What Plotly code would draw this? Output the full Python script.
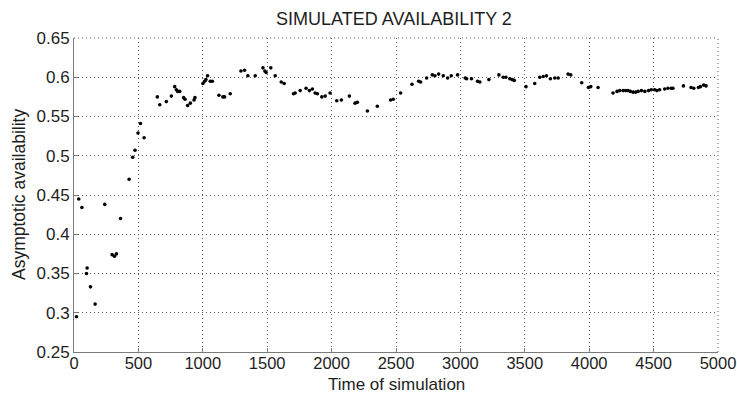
import plotly.graph_objects as go

# --- data ---
time_early = [19, 37, 61, 97, 102, 128, 164, 239, 296, 314,
              329, 361, 428, 456, 474, 497, 516, 544, 647, 666,
              717, 756, 782, 795, 805, 821, 851, 862, 882, 903,
              932, 939, 1001, 1014, 1024, 1037, 1058, 1074, 1125, 1156,
              1169, 1213, 1296, 1324, 1350, 1407, 1467, 1482, 1492, 1528,
              1562, 1609, 1632, 1704, 1717]
avail_early = [0.295, 0.445, 0.434, 0.350, 0.357, 0.333, 0.311, 0.438, 0.374, 0.372,
               0.375, 0.420, 0.470, 0.498, 0.507, 0.529, 0.541, 0.523, 0.575, 0.565,
               0.569, 0.576, 0.588, 0.584, 0.582, 0.582, 0.574, 0.572, 0.564, 0.567,
               0.571, 0.574, 0.592, 0.595, 0.597, 0.602, 0.595, 0.595, 0.577, 0.575,
               0.575, 0.579, 0.608, 0.609, 0.602, 0.602, 0.612, 0.608, 0.606, 0.612,
               0.602, 0.594, 0.592, 0.579, 0.580]

time_mid = [1756, 1802, 1828, 1851, 1872, 1890, 1924, 1950, 1988, 2040,
            2076, 2138, 2182, 2200, 2278, 2355, 2458, 2479, 2536, 2624,
            2676, 2691, 2738, 2782, 2802, 2831, 2867, 2901, 2929, 2978,
            3037, 3048, 3086, 3133, 3151, 3221, 3299, 3332, 3353, 3384,
            3402, 3418, 3509, 3577]
avail_mid = [0.583, 0.586, 0.583, 0.585, 0.580, 0.579, 0.575, 0.576, 0.580, 0.570,
             0.571, 0.576, 0.567, 0.568, 0.557, 0.563, 0.571, 0.572, 0.580, 0.591,
             0.595, 0.594, 0.599, 0.603, 0.602, 0.604, 0.602, 0.599, 0.602, 0.603,
             0.599, 0.598, 0.598, 0.595, 0.594, 0.597, 0.603, 0.600, 0.600, 0.598,
             0.597, 0.596, 0.588, 0.592]

time_late = [3616, 3643, 3668, 3699, 3733, 3759, 3836, 3857, 3942, 3994,
             4012, 4069, 4185, 4216, 4237, 4263, 4283, 4302, 4320, 4341,
             4361, 4380, 4406, 4432, 4461, 4482, 4508, 4526, 4547, 4586,
             4611, 4637, 4650, 4732, 4791, 4812, 4848, 4864, 4889, 4907]
avail_late = [0.600, 0.601, 0.602, 0.598, 0.599, 0.599, 0.604, 0.603, 0.593, 0.587,
              0.588, 0.587, 0.580, 0.582, 0.583, 0.583, 0.583, 0.583, 0.582, 0.581,
              0.581, 0.582, 0.583, 0.582, 0.583, 0.584, 0.584, 0.583, 0.584, 0.585,
              0.586, 0.586, 0.586, 0.589, 0.587, 0.586, 0.587, 0.588, 0.590, 0.589]

x_ticks = [0, 500, 1000, 1500, 2000, 2500, 3000, 3500, 4000, 4500, 5000]
x_tick_labels = ["0", "500", "1000", "1500", "2000", "2500", "3000", "3500", "4000", "4500", "5000"]
y_ticks = [0.25, 0.3, 0.35, 0.4, 0.45, 0.5, 0.55, 0.6, 0.65]
y_tick_labels = ["0.25", "0.3", "0.35", "0.4", "0.45", "0.5", "0.55", "0.6", "0.65"]

times = time_early + time_mid + time_late
avail = avail_early + avail_mid + avail_late

FONT = "Liberation Sans, Arial, sans-serif"
TXT = "#1e1e1e"
GRID = "#5a5a5a"

fig = go.Figure()
fig.add_trace(go.Scatter(
    x=times, y=avail, mode="markers",
    marker=dict(color="black", size=3.6, line=dict(width=0)),
    showlegend=False,
))

axis_common = dict(
    showgrid=True, gridcolor=GRID, griddash="1px,3px", gridwidth=1,
    zeroline=False, showline=True, linecolor="#7a7a7a", linewidth=1,
    ticks="inside", ticklen=4, tickcolor="#7a7a7a",
)

fig.update_layout(
    width=737, height=394,
    margin=dict(l=74, r=19, t=38, b=42),
    paper_bgcolor="white", plot_bgcolor="white",
    font=dict(family=FONT, color=TXT),
    title=dict(text="SIMULATED AVAILABILITY 2", x=0.5346, xanchor="center",
               y=0.953, yanchor="middle", yref="container",
               font=dict(family=FONT, size=18, color=TXT)),
    xaxis=dict(range=[0, 5000], tickvals=x_ticks, ticktext=x_tick_labels,
               automargin=False, ticklabelstandoff=-4,
               tickfont=dict(family=FONT, size=16.5, color=TXT), **axis_common),
    yaxis=dict(range=[0.25, 0.65], tickvals=y_ticks, ticktext=y_tick_labels,
               automargin=False,
               tickfont=dict(family=FONT, size=17, color=TXT), **axis_common),
)

# dotted box on top/right edges (MATLAB style)
fig.add_shape(type="line", xref="paper", yref="paper", x0=0, x1=1, y0=1, y1=1,
              line=dict(color=GRID, width=1, dash="1px,3px"))
fig.add_shape(type="line", xref="paper", yref="paper", x0=1, x1=1, y0=0, y1=1,
              line=dict(color=GRID, width=1, dash="1px,3px"))

fig.add_annotation(text="Time of simulation", xref="paper", yref="paper",
                   x=0.5, y=0, xanchor="center", yanchor="top", yshift=-21,
                   showarrow=False, font=dict(family=FONT, size=17, color=TXT))
fig.add_annotation(text="Asymptotic availability", xref="paper", yref="paper",
                   x=0, y=0.5, xanchor="center", yanchor="middle", xshift=-55,
                   textangle=-90, showarrow=False,
                   font=dict(family=FONT, size=17.5, color=TXT))

fig.write_html("out.html")
